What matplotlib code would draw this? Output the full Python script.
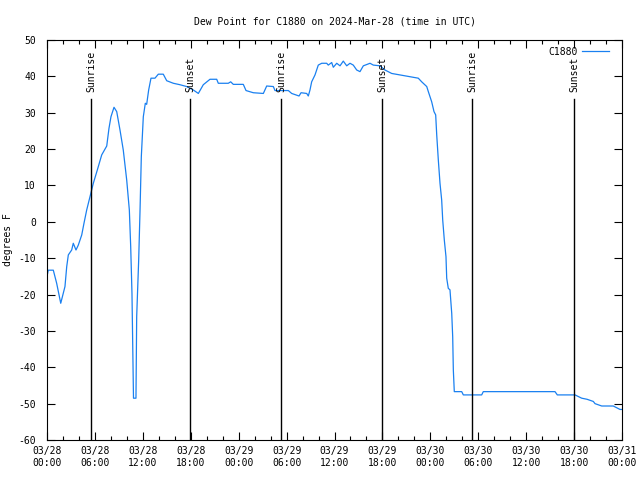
import matplotlib
matplotlib.use("Agg")
import matplotlib.pyplot as plt
import numpy as np

# Hours since 2024-03-28 00:00 UTC
hours = [0.00, 0.16, 0.79, 1.21, 1.72, 2.25, 2.47, 2.67, 3.09, 3.29, 3.63, 3.92, 4.35, 4.63,
         4.97, 5.38, 5.80, 6.30, 6.85, 7.48, 7.76, 8.01, 8.39, 8.73, 9.14, 9.55, 9.98, 10.31,
         10.48, 10.64, 10.73, 10.83, 11.14, 11.23, 11.48, 11.65, 11.81, 12.06, 12.31, 12.48,
         12.73, 13.02, 13.52, 13.94, 14.56, 14.99, 15.82, 16.65, 17.49, 18.32, 18.95, 19.57,
         20.41, 21.25, 21.45, 22.70, 23.00, 23.33, 24.58, 24.92, 25.83, 27.09, 27.51, 28.34,
         28.55, 30.22, 30.64, 31.56, 31.81, 32.52, 32.72, 32.93, 33.14, 33.56, 33.97, 34.40,
         35.02, 35.22, 35.65, 35.85, 36.28, 36.69, 37.10, 37.53, 37.94, 38.35, 38.78, 39.19,
         39.61, 40.45, 40.86, 41.70, 42.32, 43.16, 44.20, 45.45, 46.49, 46.92, 47.55, 47.75,
         48.17, 48.46, 48.67, 48.80, 49.00, 49.21, 49.42, 49.55, 49.75, 49.96, 50.05, 50.25,
         50.46, 50.68, 50.80, 50.88, 51.00, 51.93, 52.13, 54.43, 54.63, 63.61, 63.90, 66.12,
         66.95, 67.62, 68.41, 68.62, 69.46, 70.91, 71.75, 72.00]
dewpoint = [-15.0, -13.3, -13.3, -16.9, -22.4, -17.8, -12.3, -9.1, -7.75, -5.9, -7.75, -6.4, -3.6, -0.4,
            3.25, 6.9, 10.6, 14.25, 18.4, 20.85, 25.7, 28.9, 31.5, 30.3, 25.25, 19.75, 11.5, 3.25,
            -6.8, -19.7, -32.5, -48.5, -48.5, -26.1, -10.5, 3.25, 17.9, 28.9, 32.6, 32.3,
            36.25, 39.5, 39.5, 40.6, 40.6, 38.8, 38.1, 37.7, 37.2, 36.25, 35.3, 37.7,
            39.2, 39.2, 38.1, 38.1, 38.5, 37.8, 37.8, 36.1, 35.5, 35.3, 37.35, 37.2,
            36.1, 36.1, 35.3, 34.6, 35.5, 35.3, 34.6, 36.25, 38.5, 40.4, 43.1, 43.6,
            43.6, 43.1, 43.8, 42.5, 43.6, 42.9, 44.2, 42.9, 43.6, 43.1, 41.75, 41.3,
            42.9, 43.6, 43.1, 42.9, 41.75, 40.8, 40.4, 39.9, 39.5, 38.5, 37.2, 35.8,
            33.0, 30.3, 29.4, 23.9, 17.0, 10.6, 6.0, 0.5, -5.0, -9.6, -15.5, -18.3,
            -18.7, -25.2, -31.6, -40.75, -46.7, -46.7, -47.6, -47.6, -46.7, -46.7, -47.6, -47.6,
            -48.5, -48.8, -49.4, -50.0, -50.65, -50.65, -51.6, -51.6]

sun_events = [5.51, 17.91, 29.30, 41.95, 53.22, 66.00]
sun_labels = ["Sunrise", "Sunset", "Sunrise", "Sunset", "Sunrise", "Sunset"]

xtick_hours = list(range(0, 73, 6))
xtick_labels = ["03/28\n00:00", "03/28\n06:00", "03/28\n12:00", "03/28\n18:00",
                "03/29\n00:00", "03/29\n06:00", "03/29\n12:00", "03/29\n18:00",
                "03/30\n00:00", "03/30\n06:00", "03/30\n12:00", "03/30\n18:00",
                "03/31\n00:00"]
yticks = list(range(-60, 51, 10))

FONT = "DejaVu Sans Mono"
FS = 7
plt.rcParams["font.family"] = FONT

fig = plt.figure(figsize=(6.4, 4.8), dpi=100)
ax = fig.add_axes([47/640, 40/480, 575/640, 400/480])

color = "#1a80f0"
ax.plot(hours, dewpoint, color=color, lw=0.9, label="C1880")

for h, lab in zip(sun_events, sun_labels):
    ax.axvline(h, ymin=0, ymax=0.8525, color="black", lw=1.0)
    ax.text(h, 0.87, lab, rotation=90, ha="center", va="bottom",
            transform=ax.get_xaxis_transform(), fontsize=FS)

ax.set_xlim(0, 72)
ax.set_ylim(-60, 50)
ax.set_xticks(xtick_hours)
ax.set_xticklabels(xtick_labels, fontsize=FS, linespacing=1.3)
ax.set_xticks(np.arange(0, 73, 2), minor=True)
ax.set_yticks(yticks)
ax.set_yticklabels([str(v) for v in yticks], fontsize=FS)
ax.tick_params(axis="both", which="major", direction="in", length=6, width=0.8,
               top=True, right=True, pad=4)
ax.tick_params(axis="y", which="major", pad=8)
ax.tick_params(axis="both", which="minor", direction="in", length=3, width=0.8,
               top=True, right=True)
for s in ax.spines.values():
    s.set_linewidth(0.8)

ax.set_ylabel("degrees F", fontsize=FS, labelpad=4)
ax.set_title("Dew Point for C1880 on 2024-Mar-28 (time in UTC)", fontsize=FS, pad=11)

leg = ax.legend(loc="upper right", frameon=False, fontsize=FS, handlelength=2.8,
                markerfirst=False, borderaxespad=0.3, handletextpad=0.5,
                bbox_to_anchor=(0.99, 1.0))

fig.savefig("out.png", dpi=100)
